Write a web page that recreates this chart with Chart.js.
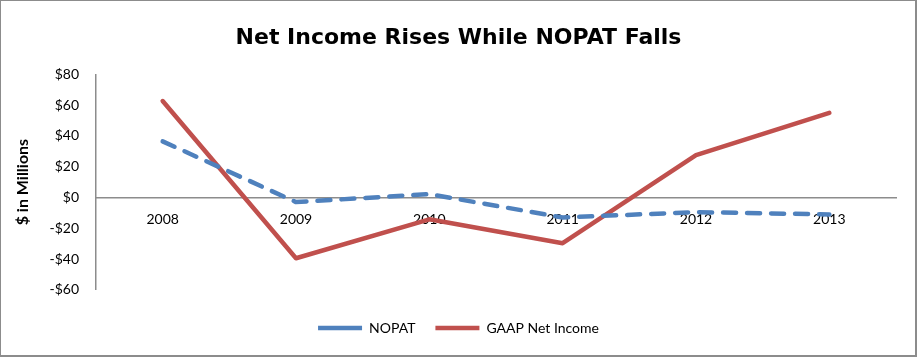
<!DOCTYPE html>
<html>
<head>
<meta charset="utf-8">
<script src="https://cdn.jsdelivr.net/npm/chart.js@4/dist/chart.umd.min.js"></script>
<style>
  html, body { margin: 0; padding: 0; background: #fff; }
  #wrap {
    position: absolute; left: 0; top: 0;
    width: 917px; height: 357px;
    border: 2px solid #8c8c8c; border-top-width: 1px; border-left-width: 1px;
    box-sizing: border-box;
    background: #fff;
  }
  #chart { display: block; }
</style>
</head>
<body>
<div id="wrap"><canvas id="chart" width="915" height="355"></canvas></div>
<script>
// data ($ millions)
var years = ["2008", "2009", "2010", "2011", "2012", "2013"];
var nopat = [36.5, -3, 2.2, -13, -9.5, -11];
var netIncome = [62.7, -39.5, -14.2, -29.7, 27.5, 55];
var yMin = -60, yMax = 80, yStep = 20;

function money(v) {
    return v < 0 ? "-$" + Math.abs(v) : "$" + v;
}

var canvas = document.getElementById("chart");

new Chart(canvas, {
    type: "line",
    data: {
        labels: years,
        datasets: [{
            label: "NOPAT",
            data: nopat,
            borderColor: "#4f81bd",
            backgroundColor: "#4f81bd",
            borderWidth: 4.5,
            borderDash: [13, 11],
            borderCapStyle: "round",
            borderJoinStyle: "round",
            pointRadius: 0,
            tension: 0,
            fill: false
        }, {
            label: "GAAP Net Income",
            data: netIncome,
            borderColor: "#c0504d",
            backgroundColor: "#c0504d",
            borderWidth: 4.5,
            borderCapStyle: "round",
            borderJoinStyle: "round",
            pointRadius: 0,
            tension: 0,
            fill: false
        }]
    },
    options: {
        responsive: false,
        animation: false,
        layout: { padding: { left: 20, right: 20, top: 0, bottom: 11 } },
        scales: {
            x: {
                position: { y: 0 },
                offset: true,
                grid: { display: false, drawTicks: false },
                border: { display: true, color: "#8c8c8c", width: 1.5 },
                ticks: {
                    color: "#000",
                    padding: 14,
                    maxRotation: 0,
                    font: { family: "Lato", size: 14 }
                }
            },
            y: {
                min: yMin,
                max: yMax,
                grid: { display: false, drawTicks: false },
                border: { display: true, color: "#8c8c8c", width: 1.5 },
                ticks: {
                    stepSize: yStep,
                    color: "#000",
                    padding: 17,
                    font: { family: "Lato", size: 14 },
                    callback: function (v) { return money(v); }
                },
                title: {
                    display: true,
                    text: "$ in Millions",
                    color: "#000",
                    font: { family: "Lato", size: 16, weight: "bold" },
                    padding: { top: -8, bottom: 0 }
                },
                afterFit: function (scale) { scale.width = 75; }
            }
        },
        plugins: {
            title: {
                display: true,
                text: "Net Income Rises While NOPAT Falls",
                color: "#000",
                font: { family: "DejaVu Sans", size: 22, weight: "bold" },
                padding: { top: 24, bottom: 23 }
            },
            legend: {
                position: "bottom",
                title: {
                    display: true,
                    text: "",
                    font: { size: 1 },
                    padding: { top: 0, bottom: 10 }
                },
                labels: {
                    color: "#000",
                    font: { family: "Lato", size: 14 },
                    usePointStyle: true,
                    pointStyle: "line",
                    pointStyleWidth: 44,
                    boxWidth: 44,
                    boxHeight: 4,
                    padding: 20
                }
            },
            tooltip: { enabled: false }
        }
    }
});
</script>
</body>
</html>
